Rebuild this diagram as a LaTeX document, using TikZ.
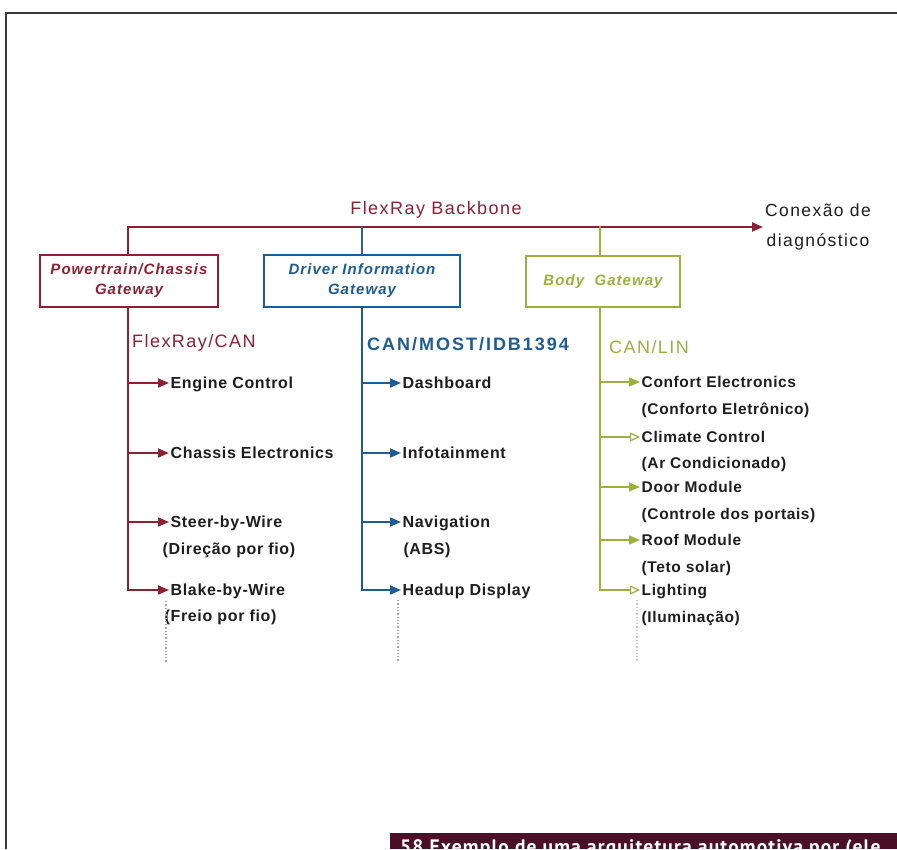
\documentclass[tikz,border=0pt]{standalone}
\usepackage{fontspec}
\setmainfont{Liberation Sans}[LetterSpace=8]
\newfontfamily\capfont{PT Sans}
\usetikzlibrary{arrows.meta}
\definecolor{ptcol}{HTML}{8A2233}
\definecolor{dicol}{HTML}{1D5C95}
\definecolor{bgcol}{HTML}{9DB03E}
\definecolor{txtcol}{HTML}{1E1E1E}
\definecolor{framecol}{HTML}{3A3A3A}
\definecolor{capbar}{HTML}{4B1026}
\begin{document}
\begin{tikzpicture}[x=1pt,y=-1pt,
  gate/.style={draw, line width=2.2pt, minimum height=52pt, inner sep=2pt,
    align=center, font=\fontsize{15}{20}\selectfont\bfseries\itshape\addfontfeature{LetterSpace=7}},
  head/.style={anchor=west, inner sep=0pt, font=\fontsize{18}{21}\selectfont},
  itm/.style={anchor=west, inner xsep=1.5pt, inner ysep=0pt, text height=11.5pt,
    text depth=0pt, text=txtcol,
    font=\fontsize{16}{19}\selectfont\bfseries\addfontfeature{LetterSpace=4}},
  itmb/.style={itm, font=\fontsize{15.5}{18}\selectfont\bfseries\addfontfeature{LetterSpace=4}},
  bus/.style={line width=1.8pt},
  tip/.style={-{Triangle[length=11pt,width=9pt]}},
  otip/.style={-{Triangle[open,length=10pt,width=9pt,line width=1.2pt]}},
  more/.style={dotted, line width=1.3pt, color=gray!70}]
\useasboundingbox (0,0) rectangle (897,849);
\fill[white] (0,0) rectangle (897,849);

% page frame
\draw[framecol, line width=2pt] (6,849) -- (6,13) -- (897,13);

% gateways
\node[gate, draw=ptcol, text=ptcol, minimum width=178pt] (g1) at (129,281)
  {Powertrain/Chassis\\Gateway};
\node[gate, draw=dicol, text=dicol, minimum width=196pt] (g2) at (362,281)
  {Driver Information\\Gateway};
\node[gate, draw=bgcol, text=bgcol, minimum width=154pt, minimum height=51pt] (g3) at (603,281.5)
  {Body\ \ Gateway};

% backbone
\node[txtcol, align=center, inner sep=2pt, font=\fontsize{17.5}{30}\selectfont] (diag) at (818,227)
  {Conexão de\\diagnóstico};
\node[ptcol, inner sep=0pt, font=\fontsize{18}{21}\selectfont] (bbl) at (436,210) {FlexRay Backbone};
\coordinate (bbL) at (128,226);
\draw[ptcol, bus, tip] (g1.north -| bbL) |- (diag.west);
\draw[dicol!80!gray, line width=1.4pt] (g2.north) -- (g2.north |- bbL);
\draw[bgcol, line width=1.6pt] (g3.north -| 600,0) -- (600,226);

% column headers
\node[head, text=ptcol] (h1) at (132,343) {FlexRay/CAN};
\node[head, text=dicol, font=\fontsize{18}{21}\selectfont\bfseries\addfontfeature{LetterSpace=11}] (h2) at (367,344) {CAN/MOST/IDB1394};
\node[head, text=bgcol] (h3) at (609,347) {CAN/LIN};

% Powertrain / chassis items
\node[itm] (p1) at (169,383) {Engine Control};
\node[itm] (p2) at (169,453) {Chassis Electronics};
\node[itm] (p3) at (169,522) {Steer-by-Wire};
\node[itm] (p3b) at (161,549) {(Direção por fio)};
\node[itm] (p4) at (169,590) {Blake-by-Wire};
\node[itm] (p4b) at (163,616) {(Freio por fio)};
\begin{scope}[ptcol, bus]
  \draw[tip] (g1.south -| bbL) |- (p4.west);
  \foreach \n in {p1,p2,p3} \draw[tip] (\n.west -| bbL) -- (\n.west);
\end{scope}
\coordinate (pm1) at (166,601);
\coordinate (pm2) at (166,662);
\draw[more] (pm1) -- (pm2);

% driver information items
\coordinate (dL) at (362,0);
\node[itm] (d1) at (401,383) {Dashboard};
\node[itm] (d2) at (401,453) {Infotainment};
\node[itm] (d3) at (401,522) {Navigation};
\node[itm, anchor=center] (d3b) at (427,549) {(ABS)};
\node[itm] (d4) at (401,590) {Headup Display};
\begin{scope}[dicol, bus]
  \draw[tip] (g2.south) |- (d4.west);
  \foreach \n in {d1,d2,d3} \draw[tip] (\n.west -| dL) -- (\n.west);
\end{scope}
\coordinate (dm1) at (398,600);
\coordinate (dm2) at (398,662);
\draw[more] (dm1) -- (dm2);

% body items
\coordinate (bL) at (600,0);
\node[itmb] (b1) at (640,382) {Confort Electronics};
\node[itmb] (b1b) at (640,409) {(Conforto Eletrônico)};
\node[itmb] (b2) at (640,437) {Climate Control};
\node[itmb] (b2b) at (640,463) {(Ar Condicionado)};
\node[itmb] (b3) at (640,487) {Door Module};
\node[itmb] (b3b) at (640,514) {(Controle dos portais)};
\node[itmb] (b4) at (640,540) {Roof Module};
\node[itmb] (b4b) at (640,567) {(Teto solar)};
\node[itmb] (b5) at (640,590) {Lighting};
\node[itmb] (b5b) at (640,617) {(Iluminação)};
\begin{scope}[bgcol, line width=1.4pt]
  \draw[otip] (g3.south -| bL) |- (b5.west);
  \draw[tip] (b1.west -| bL) -- (b1.west);
  \draw[otip] (b2.west -| bL) -- (b2.west);
  \draw[tip] (b3.west -| bL) -- (b3.west);
  \draw[tip] (b4.west -| bL) -- (b4.west);
\end{scope}
\coordinate (bm1) at (637,600);
\coordinate (bm2) at (637,662);
\draw[more, color=gray!45] (bm1) -- (bm2);

% caption strip, running off the page edge
\begin{scope}
  \clip (390,833) rectangle (897,849);
  \fill[capbar] (390,833) rectangle (897,849);
  \node[anchor=north west, inner sep=0pt, text=white,
    font=\capfont\fontsize{19.5}{22}\selectfont\bfseries\addfontfeature{LetterSpace=6}] (cap) at (400,839)
    {58 Exemplo de uma arquitetura automotiva por (ele};
\end{scope}
\end{tikzpicture}
\end{document}
